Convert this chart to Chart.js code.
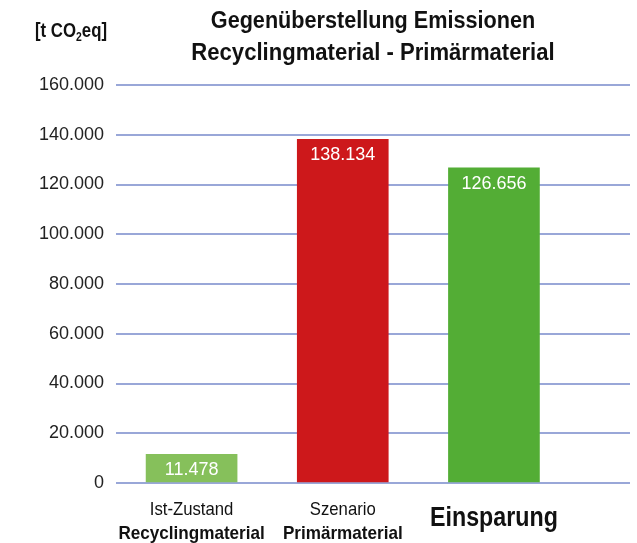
<!DOCTYPE html>
<html>
<head>
<meta charset="utf-8">
<script src="https://cdn.jsdelivr.net/npm/chart.js@4.4.1/dist/chart.umd.min.js"></script>
<style>
    html, body { margin: 0; padding: 0; background: #fff; }
    #wrap { width: 637px; height: 543px; }
</style>
</head>
<body>
<div id="wrap"><canvas id="emissionChart" width="637" height="543"></canvas></div>
<script>
const categories = [["Ist-Zustand", "Recyclingmaterial"], ["Szenario", "Primärmaterial"], ["Einsparung"]];
const emissions = [11478, 138134, 126656];
const yMax = 160000;
const yStep = 20000;
const titleLines = ["Gegenüberstellung Emissionen", "Recyclingmaterial - Primärmaterial"];
const barColors = ["#86c05b", "#cd181b", "#53ad35"];

const FONT = "'Liberation Sans', Arial, sans-serif";
const TEXT = "#111";

// German thousands separator: 138134 -> 138.134
function formatNumber(v) {
    return String(v).replace(/\B(?=(\d{3})+(?!\d))/g, ".");
}

// Draw horizontally squeezed text (stand-in for a condensed face)
function drawCondensed(ctx, text, x, y, font, sx, align) {
    ctx.save();
    ctx.font = font;
    ctx.textAlign = align || "center";
    ctx.textBaseline = "alphabetic";
    ctx.fillStyle = TEXT;
    ctx.translate(x, y);
    ctx.scale(sx, 1);
    ctx.fillText(text, 0, 0);
    ctx.restore();
}

// Title, unit label, category labels and value labels
const textPlugin = {
    id: "texts",
    afterDatasetsDraw(chart) {
        const ctx = chart.ctx;
        const area = chart.chartArea;
        const xScale = chart.scales.x;
        const cx = (area.left + area.right) / 2;

        // two-line title
        drawCondensed(ctx, titleLines[0], cx, 28, "bold 23px " + FONT, 0.94);
        drawCondensed(ctx, titleLines[1], cx, 60, "bold 23px " + FONT, 0.96);

        // unit label [t CO2eq] with subscript
        const sx = 0.8;
        let x = 35;
        const parts = [
            { t: "[t CO", f: "bold 21px " + FONT, dy: 0 },
            { t: "2", f: "bold 13px " + FONT, dy: 4 },
            { t: "eq]", f: "bold 21px " + FONT, dy: 0 }
        ];
        parts.forEach(p => {
            drawCondensed(ctx, p.t, x, 36.5 + p.dy, p.f, sx, "left");
            ctx.font = p.f;
            x += ctx.measureText(p.t).width * sx;
        });

        // category labels under the bars
        categories.forEach((lines, i) => {
            const px = xScale.getPixelForValue(i);
            if (lines.length === 2) {
                drawCondensed(ctx, lines[0], px, 515, "19px " + FONT, 0.88);
                drawCondensed(ctx, lines[1], px, 539, "bold 19px " + FONT, 0.9);
            } else {
                drawCondensed(ctx, lines[0], px, 526, "bold 28px " + FONT, 0.83);
            }
        });

        // values inside the bars
        const meta = chart.getDatasetMeta(0);
        ctx.save();
        ctx.font = "18px " + FONT;
        ctx.fillStyle = "#fff";
        ctx.textAlign = "center";
        ctx.textBaseline = "middle";
        meta.data.forEach((bar, i) => {
            ctx.fillText(formatNumber(emissions[i]), bar.x, bar.y + 16);
        });
        ctx.restore();
    }
};

const ctx = document.getElementById("emissionChart").getContext("2d");
new Chart(ctx, {
    type: "bar",
    data: {
        datasets: [{
            data: emissions.map((v, i) => ({ x: i, y: v })),
            backgroundColor: barColors,
            borderWidth: 0,
            barThickness: 91
        }]
    },
    options: {
        responsive: false,
        animation: false,
        layout: { padding: { top: 85, bottom: 60, left: 0, right: 7 } },
        plugins: {
            legend: { display: false },
            tooltip: { enabled: false },
            title: { display: false }
        },
        scales: {
            x: {
                type: "linear",
                display: false,
                offset: false,
                min: -0.5,
                max: 2.9
            },
            y: {
                min: 0,
                max: yMax,
                afterFit(scale) { scale.width = 116; },
                border: { display: false },
                grid: { color: "#99a7d8", lineWidth: 2, drawTicks: false },
                ticks: {
                    stepSize: yStep,
                    padding: 12,
                    color: "#222",
                    font: { family: FONT, size: 18 },
                    callback: v => formatNumber(v)
                }
            }
        }
    },
    plugins: [textPlugin]
});
</script>
</body>
</html>
